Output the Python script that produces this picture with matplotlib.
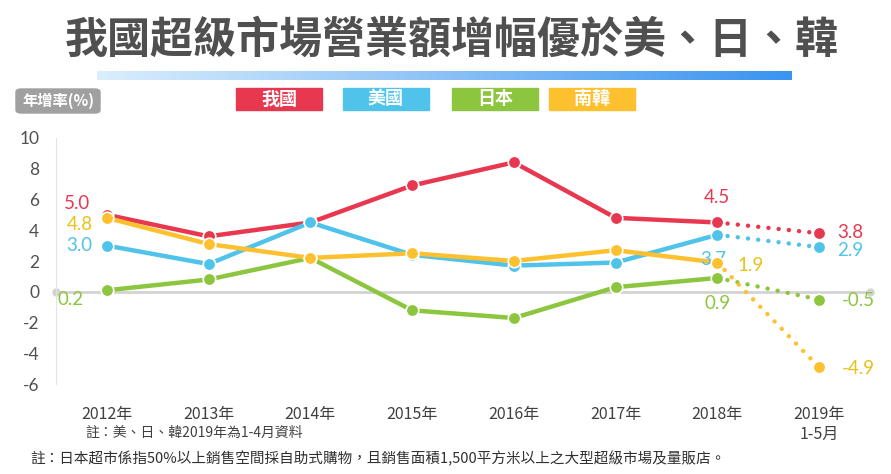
import matplotlib
matplotlib.use('Agg')
import matplotlib.pyplot as plt
import numpy as np
from matplotlib.patches import FancyBboxPatch, Rectangle

plt.rcParams['font.family'] = ['Noto Sans CJK TC', 'DejaVu Sans']

years = ['2012年', '2013年', '2014年', '2015年', '2016年', '2017年', '2018年', '2019年\n1-5月']
series_names = ['我國', '美國', '日本', '南韓']
taiwan = [5.0, 3.6, 4.5, 6.9, 8.4, 4.8, 4.5, 3.8]
usa = [3.0, 1.8, 4.5, 2.4, 1.7, 1.9, 3.7, 2.9]
japan = [0.1, 0.8, 2.2, -1.2, -1.7, 0.3, 0.9, -0.5]
korea = [4.8, 3.1, 2.2, 2.5, 2.0, 2.7, 1.9, -4.9]
colors = ['#e8384f', '#4fc3ea', '#8cc63f', '#fdc02f']
label_colors = ['#e8384f', '#4fc3ea', '#8cc63f', '#e8c21a']

# labels shown on the chart: (point index, text, offset in pixels)
labels = {
    '我國': [(0, '5.0', (-30, 11)), (6, '4.5', (0, 25)), (7, '3.8', (31, 1))],
    '美國': [(0, '3.0', (-28, 0)), (6, '3.7', (-4, -25)), (7, '2.9', (31, -3))],
    '日本': [(0, '0.2', (-36, -9)), (6, '0.9', (0, -26)), (7, '-0.5', (39, -1))],
    '南韓': [(0, '4.8', (-27, -7)), (6, '1.9', (33, -3)), (7, '-4.9', (39, -1))],
}

W, H = 891, 474
fig = plt.figure(figsize=(W / 100, H / 100), dpi=100)

# title and gradient bar
fig.text(452 / W, 1 - 40 / H, '我國超級市場營業額增幅優於美、日、韓', ha='center', va='center',
         fontsize=31, fontweight='bold', color='#505050')
bar_ax = fig.add_axes([97 / W, 1 - 80 / H, (792 - 97) / W, 9 / H])
grad = np.linspace(0, 1, 256).reshape(1, -1)
bar_cmap = matplotlib.colors.LinearSegmentedColormap.from_list('g', ['#dbeefc', '#3a94f0'])
bar_ax.imshow(grad, aspect='auto', cmap=bar_cmap)
bar_ax.axis('off')

# unit badge
fig.patches.append(FancyBboxPatch((16 / W, 1 - 113 / H), 84 / W, 24 / H,
                                  boxstyle='round,pad=0,rounding_size=0.006',
                                  transform=fig.transFigure, color='#a0a0a0'))
fig.text(58 / W, 1 - 101 / H, '年增率(%)', ha='center', va='center', fontsize=11,
         fontweight='bold', color='white')

# legend boxes
box_x = [236, 343, 452, 549]
for bx, name, c in zip(box_x, series_names, colors):
    fig.patches.append(Rectangle((bx / W, 1 - 110 / H), 86 / W, 22 / H,
                                 transform=fig.transFigure, color=c))
    fig.text((bx + 43) / W, 1 - 99 / H, name, ha='center', va='center', fontsize=13,
             fontweight='bold', color='white')

# main chart
ax = fig.add_axes([56 / W, 1 - 392 / H, (870 - 56) / W, (392 - 130) / H])
ax.set_xlim(-0.5, 7.5)
ax.set_ylim(-6.5, 10.5)
x = np.arange(len(years))

ax.plot([-0.5, 7.5], [0, 0], color='#d3d3d3', lw=2, zorder=1)
ax.plot([-0.5, 7.5], [0, 0], 'o', color='#d3d3d3', ms=5, zorder=1, clip_on=False)

for name, vals, c, lc in zip(series_names, [taiwan, usa, japan, korea], colors, label_colors):
    ax.plot(x[:7], vals[:7], color=c, lw=3.2, solid_capstyle='round', zorder=2)
    ax.plot(x[6:], vals[6:], color=c, lw=3.2, linestyle=(0, (0.01, 2.3)),
            dash_capstyle='round', zorder=2)
    ax.plot(x[:7], vals[:7], 'o', color=c, ms=9, mec='white', mew=1.2, zorder=3)
    ax.plot(x[7:], vals[7:], 'o', color=c, ms=9, mec='white', mew=1.2, zorder=3)
    for i, txt, off in labels[name]:
        ax.annotate(txt, (x[i], vals[i]), xytext=off, textcoords='offset pixels',
                    ha='center', va='center', fontsize=13.5, color=lc, family='Lato')

ax.set_yticks(range(-6, 11, 2))
ax.set_yticklabels([str(v) for v in range(-6, 11, 2)], family='Lato', fontsize=12.5, color='#505050')
ax.set_xticks(x)
ax.set_xticklabels(years, fontsize=11.5, color='#404040', linespacing=1.2, va='top')
ax.tick_params(axis='y', length=0, pad=12)
ax.tick_params(axis='x', length=0, pad=10)
for s in ['top', 'right', 'bottom']:
    ax.spines[s].set_visible(False)
ax.spines['left'].set_color('#e4e4e4')
ax.spines['left'].set_bounds(-6, 10)

fig.text(85 / W, 1 - 433 / H, '註：美、日、韓2019年為1-4月資料', ha='left', va='center',
         fontsize=10, color='#404040')
fig.text(30 / W, 1 - 459 / H, '註：日本超市係指50%以上銷售空間採自助式購物，且銷售面積1,500平方米以上之大型超級市場及量販店。',
         ha='left', va='center', fontsize=10.5, color='#303030')

fig.savefig('out.png', dpi=100)
